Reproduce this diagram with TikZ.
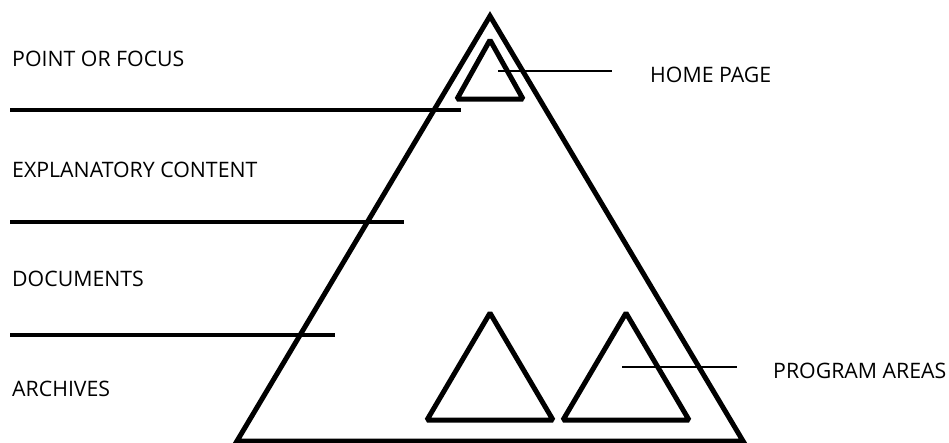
\documentclass[tikz,border=0pt]{standalone}
\usepackage{fontspec}
\setmainfont{Open Sans}
\begin{document}
\begin{tikzpicture}[x=1pt,y=-1pt,
  thick tri/.style={draw=black,line width=5pt,line join=miter},
  small tri/.style={draw=black,line width=5pt,line join=bevel},
  rule/.style={draw=black,line width=4.5pt},
  leader/.style={draw=black,line width=1.4pt},
  lbl/.style={anchor=base west,inner sep=0pt,font=\fontsize{21.3}{25}\selectfont}]
\useasboundingbox (0,0) rectangle (949,442);
% big pyramid
\draw[thick tri] (490,16) -- (743,441) -- (237,441) -- cycle;
% home page triangle
\draw[small tri] (490,40) -- (523,99) -- (457,99) -- cycle;
% program area triangles
\draw[small tri] (490,313) -- (553,420) -- (427,420) -- cycle;
\draw[small tri] (626,313) -- (689,420) -- (563,420) -- cycle;
% level rules
\coordinate (r1a) at (10,110); \coordinate (r1b) at (461,110);
\coordinate (r2a) at (10,222); \coordinate (r2b) at (404,222);
\coordinate (r3a) at (10,335); \coordinate (r3b) at (335,335);
\draw[rule] (r1a) -- (r1b);
\draw[rule] (r2a) -- (r2b);
\draw[rule] (r3a) -- (r3b);
% labels
\node[lbl] (pf) at (12,66) {POINT OR FOCUS};
\node[lbl] (ec) at (12,177) {EXPLANATORY CONTENT};
\node[lbl] (dc) at (12,286) {DOCUMENTS};
\node[lbl] (ar) at (12,396) {ARCHIVES};
\node[lbl] (hp) at (650,82) {HOME PAGE};
\node[lbl] (pa) at (773,378) {PROGRAM AREAS};
% leader lines
\coordinate (hpa) at (498,71); \coordinate (hpb) at (612,71);
\coordinate (paa) at (622,367); \coordinate (pab) at (737,367);
\draw[leader] (hpa) -- (hpb);
\draw[leader] (paa) -- (pab);
\end{tikzpicture}
\end{document}
